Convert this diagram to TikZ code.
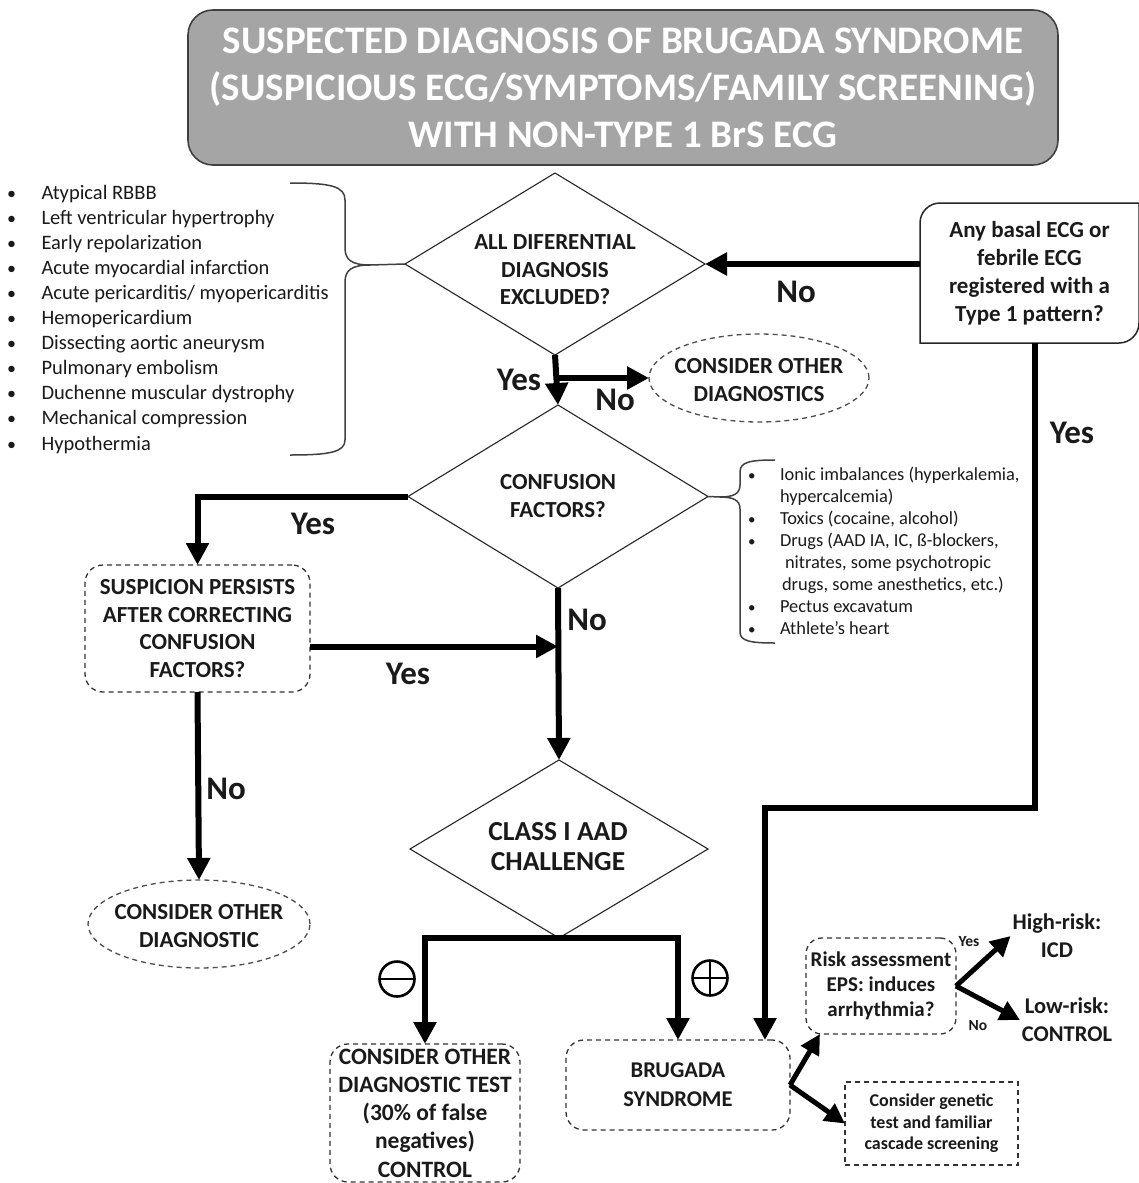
\documentclass[tikz,border=0pt]{standalone}
\usepackage{fontspec}
\setmainfont{Carlito}
\usetikzlibrary{shapes.geometric,arrows.meta,calc}
\newcommand\myfs[2]{\fontsize{#1}{#2}\selectfont}
\definecolor{titlegray}{HTML}{A5A5A5}
\definecolor{edgegray}{HTML}{404040}
\definecolor{txtgray}{HTML}{1A1A1A}
\begin{document}
\begin{tikzpicture}[x=1pt,y=-1pt,
  every node/.style={inner sep=0pt, outer sep=0pt, align=center, text=txtgray},
  flow/.style={line width=6pt, -{Triangle[length=22pt,width=22pt]}},
  smallflow/.style={line width=5pt, -{Triangle[length=20pt,width=20pt]}},
  dia/.style={draw=black!85, line width=1.1pt, diamond},
  dbox/.style={draw=black!80, line width=1.3pt, dash pattern=on 5pt off 4pt, rounded corners=18pt},
  dell/.style={draw=black!70, line width=1.3pt, dash pattern=on 5pt off 4pt, ellipse},
  lbl/.style={font=\myfs{33}{36}\bfseries},
  slbl/.style={font=\myfs{15.5}{17}\bfseries},
  brace/.style={draw=black!75, line width=1.5pt},
  sign/.style={circle, draw=black, line width=2.6pt, minimum size=35pt}
]
\useasboundingbox (0,0) rectangle (1139,1183);
\fill[white] (0,0) rectangle (1139,1183);

% title
\node[draw=edgegray, line width=1.6pt, fill=titlegray, rounded corners=25pt,
      minimum width=870pt, minimum height=155pt, text=white,
      font=\myfs{39}{47}\bfseries] (title) at (623,87.5)
  {SUSPECTED DIAGNOSIS OF BRUGADA SYNDROME\\(SUSPICIOUS ECG/SYMPTOMS/FAMILY SCREENING)\\WITH NON-TYPE 1 BrS ECG};

% diamonds
\node[dia, minimum width=300pt, minimum height=182pt] (d1) at (555,264) {};
\node[font=\myfs{23}{27.5}\bfseries] (d1t) at (555,270) {ALL DIFERENTIAL\\DIAGNOSIS\\EXCLUDED?};
\node[dia, minimum width=300pt, minimum height=183pt] (d2) at (558,496.5) {};
\node[font=\myfs{23}{28}\bfseries] (d2t) at (558,496) {CONFUSION\\FACTORS?};
\node[dia, minimum width=298pt, minimum height=178pt] (d3) at (559,849) {};
\node[font=\myfs{27.5}{30}\bfseries] (d3t) at (558,847) {CLASS I AAD\\CHALLENGE};

% right question box
\node[minimum width=219pt, minimum height=140pt, font=\myfs{23}{28}\bfseries] (rb) at (1029.5,273)
  {Any basal ECG or\\febrile ECG\\registered with a\\Type 1 pattern?};
\draw[draw=black!85, line width=1.5pt]
  (rb.south west) -- ([yshift=-20pt]rb.north west)
  .. controls ([yshift=-9pt]rb.north west) and ([xshift=9pt]rb.north west) .. ([xshift=20pt]rb.north west)
  -- (rb.north east) -- ([yshift=20pt]rb.south east)
  .. controls ([yshift=9pt]rb.south east) and ([xshift=-9pt]rb.south east) .. ([xshift=-20pt]rb.south east)
  -- cycle;

% ellipses
\node[dell, minimum width=220pt, minimum height=88pt] (e1) at (759,378) {};
\node[font=\myfs{23}{28}\bfseries] (e1t) at (759,380) {CONSIDER OTHER\\DIAGNOSTICS};
\node[dell, minimum width=222pt, minimum height=88pt] (e2) at (199,924) {};
\node[font=\myfs{23}{28}\bfseries] (e2t) at (199,926) {CONSIDER OTHER\\DIAGNOSTIC};

% dashed boxes
\node[dbox, minimum width=225pt, minimum height=127pt, font=\myfs{23}{27.7}\bfseries] (sp) at (197.5,628.5)
  {SUSPICION PERSISTS\\AFTER CORRECTING\\CONFUSION\\FACTORS?};
\node[dbox, minimum width=190pt, minimum height=138pt, font=\myfs{23.5}{28.2}\bfseries] (cb) at (425,1113)
  {CONSIDER OTHER\\DIAGNOSTIC TEST\\(30\% of false\\negatives)\\CONTROL};
\node[dbox, minimum width=224pt, minimum height=90pt, font=\myfs{22.5}{29}\bfseries] (bs) at (678,1085)
  {BRUGADA\\SYNDROME};
\node[dbox, rounded corners=16pt, minimum width=150pt, minimum height=96pt, font=\myfs{21}{25}\bfseries] (ra) at (881,986)
  {Risk assessment\\EPS: induces\\arrhythmia?};
\node[draw=black!80, line width=1.3pt, dash pattern=on 5pt off 4pt, minimum width=173pt, minimum height=83pt,
      font=\myfs{18}{21.5}\bfseries] (gen) at (931.5,1123.5)
  {Consider genetic\\test and familiar\\cascade screening};

% outcome labels
\node[font=\myfs{22.5}{28}\bfseries, inner sep=2pt] (hr) at (1057,936) {High-risk:\\ICD};
\node[font=\myfs{22.5}{28}\bfseries, inner sep=2pt] (lr) at (1067,1020) {Low-risk:\\CONTROL};

% signs
\node[sign] (minus) at (397,979) {};
\draw[line width=2.6pt] (minus.west) -- (minus.east);
\node[sign] (plus) at (710,978) {};
\draw[line width=2.6pt] (plus.west) -- (plus.east) (plus.north) -- (plus.south);

% connectors
\draw[flow] (d1.east -| rb.west) -- (d1.east);
\draw[flow] (d1.south) -- (d2.north);
\draw[flow] (d1.south |- e1.west) -- (e1.west);
\draw[flow] (d2.west) -| (sp.north);
\coordinate (spy) at ($(sp.east)+(0,18)$);
\draw[flow] (spy) -- (spy -| d2.south);
\draw[flow] (d2.south) -- (d3.north);
\draw[flow] (sp.south) -- (e2.north);
\draw[flow] (d3.south) -| (cb.north);
\draw[flow] (d3.south) -| (bs.north);
\coordinate (rbx) at (1035,343);
\coordinate (turn) at (765,808);
\draw[flow] (rbx) |- (turn) -- (turn |- bs.north);
\draw[smallflow] (bs.east) -- ([xshift=14pt]ra.south west);
\draw[smallflow] (bs.east) -- (gen.west);
\draw[smallflow] (ra.east) -- (hr.west);
\draw[smallflow] (ra.east) -- (lr.west);

% edge labels
\node[lbl] (l1) at (796,292) {No};
\node[lbl] (l2) at (519,380) {Yes};
\node[lbl] (l3) at (615,400) {No};
\node[lbl] (l4) at (1072,433) {Yes};
\node[lbl] (l5) at (313,524) {Yes};
\node[lbl] (l6) at (408,674) {Yes};
\node[lbl] (l7) at (587,620) {No};
\node[lbl] (l8) at (226,789) {No};
\node[slbl] (l9) at (969,942) {Yes};
\node[slbl] (l10) at (978,1026) {No};

% left brace
\draw[brace] (290,183) .. controls (330,183) and (345,186) .. (345,200) -- (345,248)
  .. controls (345,260) and (352,265) .. (370,265) -- (d1.west);
\draw[brace] (370,265) .. controls (352,265) and (345,270) .. (345,282) -- (345,440)
  .. controls (345,452) and (330,455) .. (290,455);
% right brace
\draw[brace] (775,460) .. controls (750,460) and (740,462) .. (740,472) -- (740,485)
  .. controls (740,494) and (733,497) .. (720,497) -- (d2.east);
\draw[brace] (720,497) .. controls (733,497) and (740,500) .. (740,509) -- (740,632)
  .. controls (740,641) and (750,643) .. (775,643);

% left list
\foreach \t [count=\i] in {{Atypical RBBB},{Left ventricular hypertrophy},{Early repolarization},
  {Acute myocardial infarction},{Acute pericarditis/ myopericarditis},{Hemopericardium},
  {Dissecting aortic aneurysm},{Pulmonary embolism},{Duchenne muscular dystrophy},
  {Mechanical compression},{Hypothermia}}{
  \node[anchor=base west, font=\myfs{18}{20}] (lb\i) at (7,{199+25.1*(\i-1)}) {\textbullet};
  \node[anchor=base west, font=\myfs{20.5}{22}] (lt\i) at (41.5,{199+25.1*(\i-1)}) {\t};
}
% right list
\foreach \t/\xx [count=\i] in {{Ionic imbalances (hyperkalemia,}/780,{hypercalcemia)}/780,
  {Toxics (cocaine, alcohol)}/780,{Drugs (AAD IA, IC, ß-blockers,}/780,{nitrates, some psychotropic}/785,
  {drugs, some anesthetics, etc.)}/782,{Pectus excavatum}/780,{Athlete’s heart}/780}{
  \node[anchor=base west, font=\myfs{18.4}{20}] (rt\i) at (\xx,{480+22.14*(\i-1)}) {\t};
}
\foreach \i in {1,3,4,7,8}{
  \node[anchor=base west, font=\myfs{15}{16}] (rbul\i) at (748,{480+22.14*(\i-1)}) {\textbullet};
}
\end{tikzpicture}
\end{document}
